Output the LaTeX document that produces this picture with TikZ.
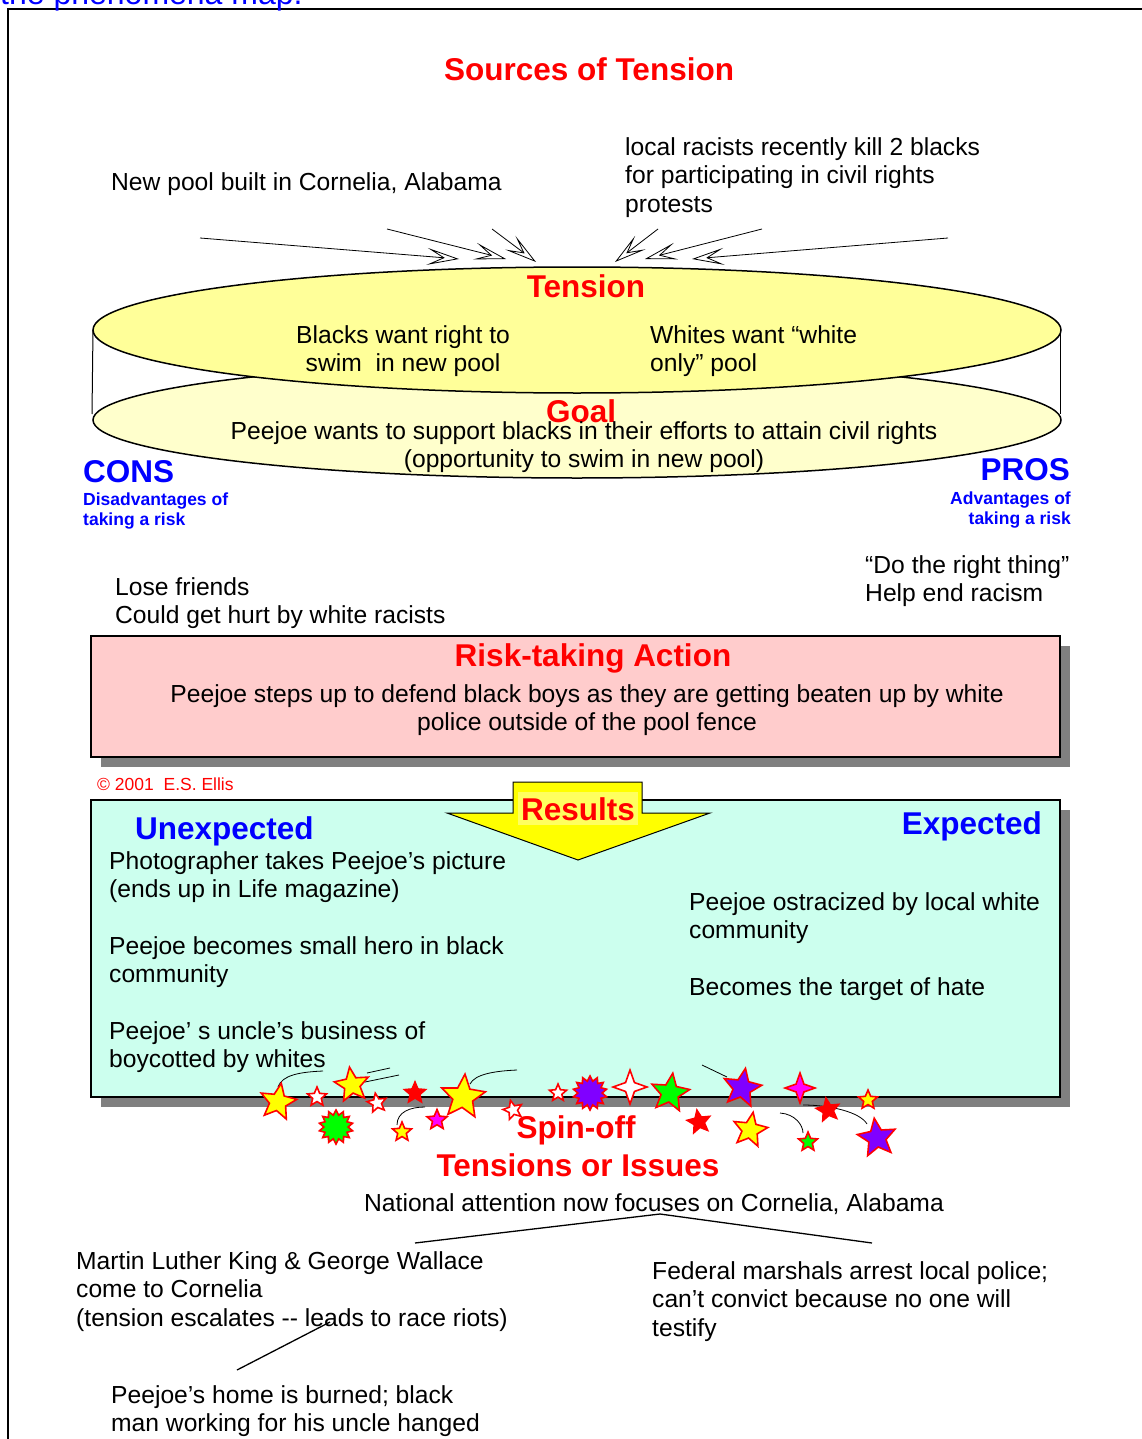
\documentclass[tikz,border=0pt]{standalone}
\usepackage{fontspec}
\setmainfont{Liberation Sans}
\usetikzlibrary{shapes.geometric,arrows.meta}
\definecolor{tred}{RGB}{255,0,0}
\definecolor{tblue}{RGB}{0,0,255}
\definecolor{ytop}{RGB}{255,255,153}
\definecolor{ybot}{RGB}{255,255,204}
\definecolor{pinkbox}{RGB}{255,204,204}
\definecolor{cyanbox}{RGB}{204,255,238}
\definecolor{shad}{RGB}{128,128,128}
\definecolor{ryel}{RGB}{255,255,0}
\definecolor{ryel2}{RGB}{255,255,95}
\definecolor{spurple}{RGB}{128,0,255}
\definecolor{smag}{RGB}{255,0,255}
\definecolor{sgreen}{RGB}{0,255,0}
\begin{document}
\begin{tikzpicture}[x=1pt,y=-1pt,
  tx/.style={font=\fontsize{24.65}{28.5}\selectfont, inner sep=0pt, align=left},
  tl/.style={font=\fontsize{31.5}{36}\selectfont\bfseries, inner sep=0pt, text=tred},
  bl/.style={font=\fontsize{31.5}{36}\selectfont\bfseries, inner sep=0pt, text=tblue},
  sm/.style={font=\fontsize{17.5}{20}\selectfont\bfseries, inner sep=0pt, text=tblue},
  arr/.style={-{Stealth[open,length=32pt,width=17pt,inset=16pt]}, line width=0.8pt},
  st5/.style={star, star points=5, star point ratio=2.2, draw=tred, line width=1.6pt, inner sep=0pt},
  st4/.style={star, star points=4, star point ratio=2.7, draw=tred, line width=1.6pt, inner sep=0pt},
  burst/.style={star, star points=14, star point ratio=1.4, draw=tred, line width=1.6pt, inner sep=0pt},
  mline/.style={line width=0.8pt}
]
\useasboundingbox (0,0) rectangle (1141,1439);
% outer frame
\draw[line width=2pt] (1150,9) -- (8,9) -- (8,1450);
\node[font=\fontsize{32}{36}\selectfont, text=tblue, inner sep=0pt, anchor=base west] (phen) at (0,4.5) {the phenomena map.};

% sources
\node[tl, anchor=base] (sources) at (589,81) {Sources of Tension};
\node[tx, anchor=base west] (newpool) at (111,191) {New pool built in Cornelia, Alabama};
\node[tx, anchor=north west] (local) at (625,137) {local racists recently kill 2 blacks\\for participating in civil rights\\protests};

% cylinder
\draw[line width=1.5pt, fill=ybot] (577,420) ellipse [x radius=484pt, y radius=58pt];
\draw[line width=1pt] (93,330) -- (92,414);
\draw[line width=1pt] (1060,330) -- (1060,414);
\draw[line width=1.5pt, fill=ytop] (577,330) ellipse [x radius=484pt, y radius=63pt];

% arrows into tension
\coordinate (a1s) at (200,238); \coordinate (a1e) at (459,259);
\coordinate (a2s) at (387,229); \coordinate (a2e) at (506,259);
\coordinate (a3s) at (492,229); \coordinate (a3e) at (536,262);
\coordinate (a4s) at (658,229); \coordinate (a4e) at (615,262);
\coordinate (a5s) at (762,229); \coordinate (a5e) at (645,259);
\coordinate (a6s) at (948,238); \coordinate (a6e) at (692,259);
\foreach \i in {1,...,6} {\draw[arr] (a\i s) -- (a\i e);}

\node[tl, anchor=base] (tension) at (586,297) {Tension};
\node[tx, align=center, anchor=north] (blacks) at (403,325) {Blacks want right to\\swim~ in new pool};
\node[tx, anchor=north west] (whites) at (650,325) {Whites want “white\\only” pool};
\node[tl, anchor=base] (goal) at (581,422) {Goal};
\node[tx, align=center, anchor=north] (peejoe) at (584,421) {Peejoe wants to support blacks in their efforts to attain civil rights\\(opportunity to swim in new pool)};

% cons / pros
\node[bl, anchor=base west] (cons) at (83,482) {CONS};
\node[sm, anchor=north west, align=left] (disadv) at (83,493) {Disadvantages of\\taking a risk};
\node[bl, anchor=base east] (pros) at (1070,480) {PROS};
\node[sm, anchor=north east, align=right] (adv) at (1071,492) {Advantages of\\taking a risk};
\node[tx, anchor=north west] (lose) at (115,577) {Lose friends\\Could get hurt by white racists};
\node[tx, anchor=north west] (doright) at (865,555) {“Do the right thing”\\Help end racism};

% risk box
\fill[shad] (101,646) rectangle (1070,767);
\draw[line width=1.2pt, fill=pinkbox] (91,636) rectangle (1060,757);
\node[tl, anchor=base] (risk) at (593,666) {Risk-taking Action};
\node[tx, align=center, anchor=north] (risktxt) at (587,684) {Peejoe steps up to defend black boys as they are getting beaten up by white\\police outside of the pool fence};
\node[font=\fontsize{17.5}{20}\selectfont, text=tred, inner sep=0pt, anchor=base west] (copy) at (97,790) {© 2001~ E.S. Ellis};

% results box
\fill[shad] (101,810) rectangle (1070,1107);
\draw[line width=1.2pt, fill=cyanbox] (91,800) rectangle (1060,1097);
\draw[line width=1pt, fill=ryel] (513,782) -- (642,782) -- (642,813) -- (710,813) -- (578,860) -- (447,813) -- (513,813) -- cycle;
\node[tl, anchor=base, fill=ryel2, inner xsep=3pt, inner ysep=5pt] (results) at (578,820) {Results};
\node[bl, anchor=base west] (unexp) at (135,839) {Unexpected};
\node[bl, anchor=base east] (exp) at (1042,834) {Expected};
\node[tx, anchor=north west] (photo) at (109,851) {Photographer takes Peejoe’s picture\\(ends up in Life magazine)};
\node[tx, anchor=north west] (hero) at (109,936) {Peejoe becomes small hero in black\\community};
\node[tx, anchor=north west] (uncle) at (109,1021) {Peejoe’ s uncle’s business of\\boycotted by whites};
\node[tx, anchor=north west] (ostr) at (689,892) {Peejoe ostracized by local white\\community};
\node[tx, anchor=north west] (target) at (689,977) {Becomes the target of hate};

% motion lines
\draw[mline] (278,1087) .. controls (282,1075) and (300,1072) .. (323,1071);
\draw[mline] (367,1073) -- (390,1068);
\draw[mline] (365,1082) -- (399,1075);
\draw[mline] (470,1084) .. controls (475,1074) and (495,1071) .. (517,1070);
\draw[mline] (397,1125) .. controls (397,1112) and (410,1107) .. (425,1107);
\draw[mline] (702,1065) -- (727,1077);
\draw[mline] (780,1113) .. controls (795,1114) and (803,1125) .. (803,1133);
\draw[mline] (803,1105) .. controls (830,1105) and (860,1112) .. (867,1124);

% stars
\node[st5, fill=ryel, minimum size=38pt, rotate=-10] (s1) at (278,1102) {};
\node[st5, fill=white, minimum size=20pt] (s2) at (317,1097) {};
\node[st5, fill=ryel, minimum size=36pt, rotate=8] (s3) at (352,1085) {};
\node[st5, fill=white, minimum size=20pt, rotate=10] (s4) at (377,1103) {};
\node[st5, fill=tred, minimum size=22pt] (s5) at (415,1093) {};
\node[st5, fill=ryel, minimum size=46pt, rotate=-5] (s6) at (463,1097) {};
\node[burst, fill=sgreen, minimum size=34pt] (s7) at (336,1127) {};
\node[st5, fill=ryel, minimum size=20pt] (s8) at (402,1132) {};
\node[st5, fill=smag, minimum size=21pt] (s9) at (437,1120) {};
\node[st5, fill=white, minimum size=20pt, rotate=15] (s10) at (513,1110) {};
\node[st5, fill=white, minimum size=18pt] (s11) at (558,1093) {};
\node[burst, fill=spurple, minimum size=34pt] (s12) at (590,1093) {};
\node[st4, fill=white, minimum size=34pt] (s13) at (630,1087) {};
\node[st5, fill=sgreen, minimum size=40pt, rotate=-8] (s14) at (670,1093) {};
\node[st5, fill=spurple, minimum size=40pt, rotate=-10] (s15) at (742,1088) {};
\node[st4, fill=smag, minimum size=30pt] (s16) at (800,1088) {};
\node[st5, fill=ryel, minimum size=20pt] (s17) at (868,1100) {};
\node[st5, fill=tred, minimum size=24pt, rotate=10] (s18) at (699,1122) {};
\node[st5, fill=ryel, minimum size=36pt, rotate=-10] (s19) at (750,1130) {};
\node[st5, fill=tred, minimum size=24pt, rotate=10] (s20) at (828,1110) {};
\node[st5, fill=sgreen, minimum size=20pt] (s21) at (808,1142) {};
\node[st5, fill=spurple, minimum size=40pt, rotate=8] (s22) at (877,1138) {};

% spin-off
\node[tl, anchor=base] (spin) at (576,1138) {Spin-off};
\node[tl, anchor=base] (tens) at (578,1176) {Tensions or Issues};
\node[tx, anchor=base] (nat) at (654,1211) {National attention now focuses on Cornelia, Alabama};
\node[tx, anchor=north west] (mlk) at (76,1251) {Martin Luther King \& George Wallace\\come to Cornelia\\(tension escalates -{}- leads to race riots)};
\node[tx, anchor=north west] (fed) at (652,1261) {Federal marshals arrest local police;\\can’t convict because no one will\\testify};
\node[tx, anchor=north west] (home) at (111,1385) {Peejoe’s home is burned; black\\man working for his uncle hanged};

\coordinate (apex) at (660,1214);
\coordinate (mlkend) at (415,1243);
\coordinate (fedend) at (872,1243);
\coordinate (riot) at (330,1322);
\coordinate (homeend) at (237,1370);
\draw[line width=1.3pt] (mlkend) -- (apex) -- (fedend);
\draw[line width=1.3pt] (riot) -- (homeend);
\end{tikzpicture}
\end{document}
